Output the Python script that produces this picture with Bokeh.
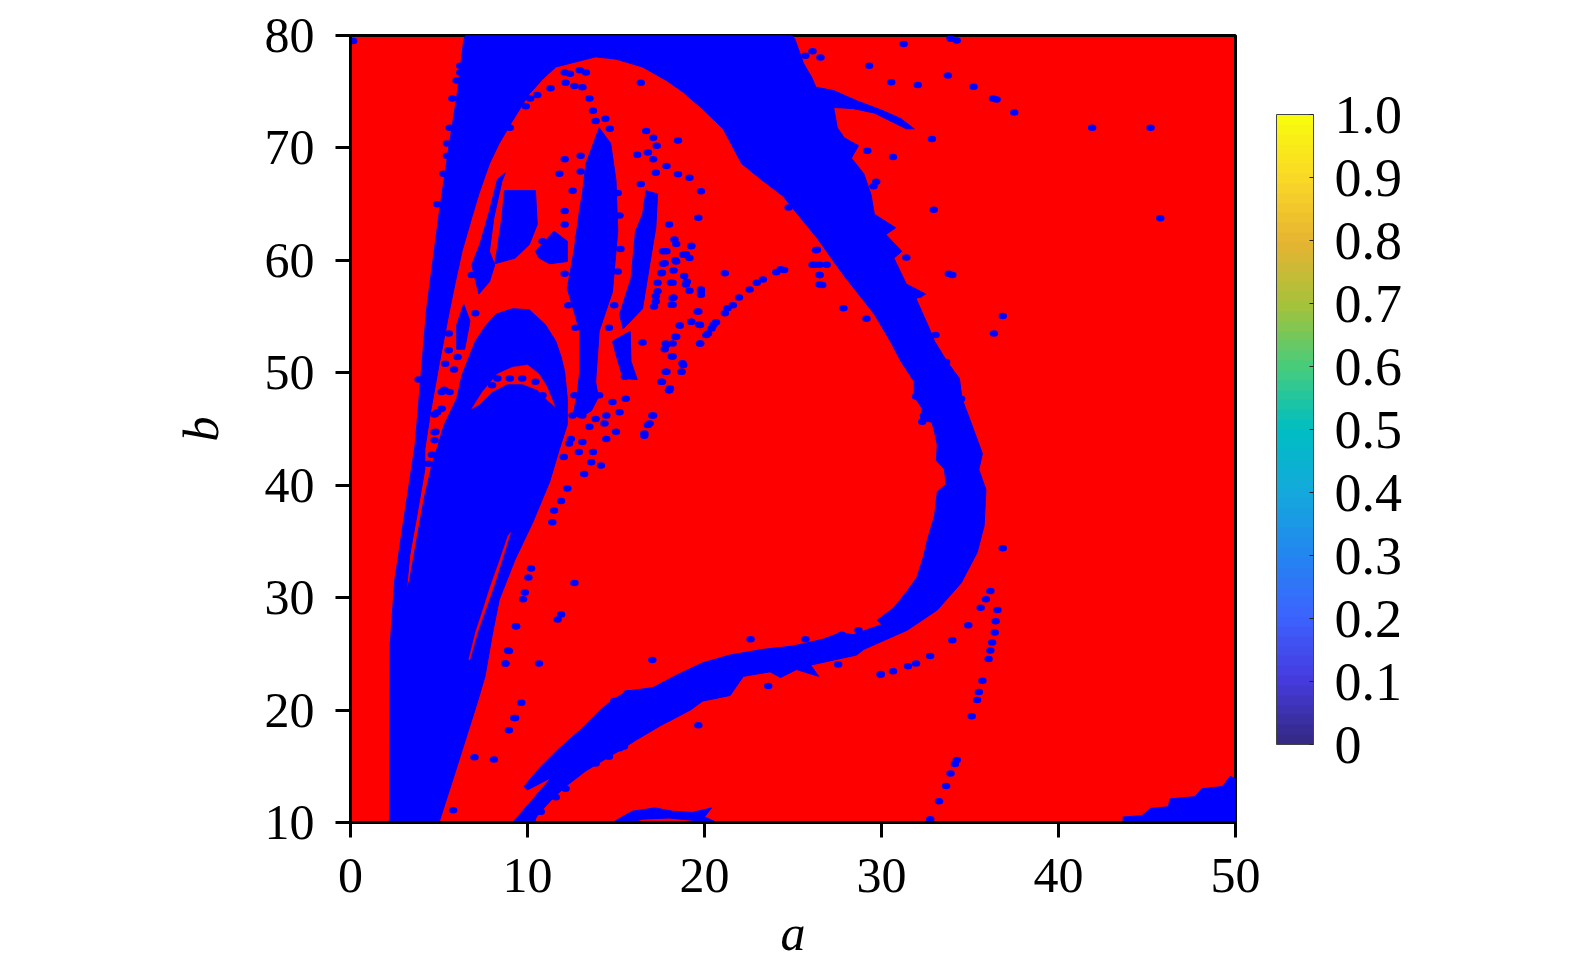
from bokeh.plotting import figure
from bokeh.embed import file_html
from bokeh.resources import INLINE
from bokeh.models import ColorBar, LinearColorMapper, FixedTicker, Title
import numpy as np

XTICKS = [0, 10, 20, 30, 40, 50]
YTICKS = [10, 20, 30, 40, 50, 60, 70, 80]
CB_TICKS = [0, .1, .2, .3, .4, .5, .6, .7, .8, .9, 1.0]
CB_LABELS = ["0", "0.1", "0.2", "0.3", "0.4", "0.5", "0.6", "0.7", "0.8", "0.9", "1.0"]

# Main connected blue band
MAIN_A = [2.2, 2.25, 2.5, 2.65, 2.9, 3.65, 4.3, 5.0, 5.55, 6.0, 6.4, 6.5, 24.9, 25.1, 25.6, 26.05, 26.3,
          27.3, 28.6, 30.1, 31.1, 31.85, 31.4, 30.5, 29.6, 28.4, 27.3, 27.5, 27.9, 28.7, 28.3, 29.0, 29.4, 29.6,
          30.8, 30.25, 31.15, 30.7, 31.4, 32.5, 31.95, 32.6, 33.0, 33.7, 34.4, 34.55, 35.05, 35.7, 35.5, 35.9,
          35.8, 35.4, 34.5, 33.15, 31.45, 29.0, 28.6, 26.0, 26.45, 25.2, 24.3, 23.7, 22.2, 21.8, 21.45, 19.9,
          19.2, 17.5, 16.1, 15.2, 14.25, 13.3, 12.15, 11.4, 10.65, 10.3, 9.15, 10.1, 11.35, 10.0, 9.8, 10.65,
          11.8, 13.1, 14.05, 14.8, 15.65, 17.1, 18.4, 19.9, 21.45, 23.3, 25.0, 26.7, 27.7, 28.4, 30.0, 29.75,
          30.7, 31.45, 32.0, 32.4, 32.6, 33.0, 33.15, 33.65, 33.55, 33.1, 33.15, 33.0, 32.85, 32.2, 32.3, 31.85,
          31.85, 31.1, 30.5, 29.6, 27.85, 26.35, 25.0, 24.45, 23.2, 22.1, 21.05, 19.9, 18.8, 17.85, 16.5, 15.0, 13.85, 13.1, 11.6, 10.85, 10.1, 9.15,
          8.4, 7.85, 7.25, 6.85, 6.3, 5.9, 5.55, 5.0, 4.5, 4.2, 4.2, 3.75, 3.35, 3.2, 3.0]
MAIN_B = [10, 26, 31.6, 33.1, 35.8, 43.6, 55.7, 64.1, 70, 74.5, 79.6, 80, 80, 79.7, 77.5, 76.3, 75.4,
          75.1, 74.2, 73.3, 72.6, 71.7, 71.7, 72.4, 73.1, 73.5, 73.6, 71.8, 70.9, 70.2, 69.1, 67.7, 65.9, 64.1,
          62.9, 62.3, 60.8, 60.2, 57.9, 57, 56.6, 54.3, 52.8, 51, 49.5, 47.7, 45.6, 42.8, 41.4, 39.6,
          36.4, 34, 31.3, 28.9, 27.1, 25.4, 24.9, 24, 23, 23.6, 22.9, 23.4, 23, 22.1, 21.3, 20.8,
          20, 18.6, 17.3, 16.4, 15.5, 14.6, 13.2, 12.1, 10.8, 10, 10, 11.7, 14, 12.9, 13.2, 14.8,
          16.6, 18.4, 19.9, 20.9, 21.7, 22, 23.1, 24.2, 24.9, 25.4, 25.7, 26.3, 26.9, 26.7, 27.6, 28,
          29.1, 30.6, 31.8, 33.8, 35.2, 37.3, 39.4, 40.1, 41.4, 42.2, 43.6, 44.7, 45.6, 45.8, 46.8, 47.9,
          49.2, 51, 52.8, 55.2, 58.7, 62, 64.6, 65.7, 67.2, 68.6, 71.7, 73.45, 74.95, 76, 77.2, 77.9, 78.1, 77.8, 77.2, 76.1, 74.8, 72.4,
          70.4, 68.6, 65.9, 63.8, 60.8, 57.9, 55.2, 50.7, 46.3, 43.2, 41.4, 37.3, 33.8, 31.3, 26]

# Large lower-left blue lobe
BLOB_A = [2.2, 2.25, 3.35, 3.85, 4.2, 4.6, 5.3, 6.0, 6.3, 6.7, 7.05, 7.6, 8.2, 9.15, 10.1, 11.0, 11.6, 11.9, 12.1, 12.25, 12.25,
          11.8, 11.25, 10.3, 9.3, 8.4, 8.0, 7.6, 7.15, 5.9, 5.0]
BLOB_B = [10, 26, 31.6, 36.1, 39.1, 41.8, 45.4, 47.7, 49.8, 51.4, 52.8, 54.1, 55.2, 55.7, 55.6, 54.3, 52.8, 51.4, 50.1, 47.7, 45.4,
          43.2, 40.3, 36.7, 33.4, 29.8, 26.6, 23, 20.6, 14.4, 10]

# Smaller blue islands
ISLAND_A = [
    [8.7, 10.45, 10.55, 10.1, 9.3, 8.15, 8.3, 8.55],
    [10.45, 11.5, 12.25, 12.25, 11.25, 10.65],
    [8.75, 8.3, 7.85, 7.3, 6.85, 7.25, 7.85, 8.15, 7.85, 8.1, 8.55],
    [6.4, 6.0, 6.0, 6.45, 6.75],
    [14.05, 14.7, 15.0, 15.1, 14.8, 14.05, 13.85, 14.0, 13.6, 12.9, 12.6, 12.8, 12.95, 12.95, 12.25, 12.65, 12.95, 13.1, 13.3],
    [16.7, 17.35, 17.25, 16.9, 16.5, 15.4, 15.2, 15.85, 16.1, 16.5],
    [14.8, 15.8, 15.85, 16.2, 15.4, 15.0],
    [14.8, 15.9, 17.2, 18.2, 19.3, 20.4, 20.0, 20.7, 19.3, 18.0, 16.5, 15.8],
    [43.65, 44.7, 45.2, 46.2, 46.3, 47.7, 48.1, 49.25, 49.7, 50.0, 50.0, 43.65],
]
ISLAND_B = [
    [66.2, 66.2, 63.2, 61.4, 60.2, 59.7, 61.1, 63.8],
    [60.8, 62.6, 61.7, 59.9, 59.7, 60.2],
    [67.8, 67.2, 64.4, 61.4, 59.6, 57, 58.1, 59.6, 60.8, 63.8, 67],
    [56.1, 54.3, 52.1, 52.1, 54.6],
    [71.8, 70.4, 67.1, 62.6, 57.2, 53.7, 49.2, 47.8, 46.6, 46, 46.4, 48, 50.1, 53.7, 57.5, 61.1, 64.6, 65.9, 68.6],
    [66.2, 65.9, 62.9, 59.6, 55.7, 53.9, 55.2, 58.4, 62.6, 64.1],
    [52.8, 53.7, 51, 49.4, 49.5, 51.6],
    [10, 11, 11.3, 11, 10.9, 11.3, 10.5, 10, 10.2, 10.4, 10.3, 10],
    [10.5, 10.6, 11.25, 11.4, 12.1, 12.3, 13, 13.2, 14.1, 13.9, 10, 10],
]

# Red cut-outs inside the blue lobe
HOLE_A = [
    [9.05, 8.6, 8.1, 7.7, 7.2, 6.75, 6.68, 7.08, 7.5, 7.9, 8.4, 8.9],
    [6.85, 7.45, 8.3, 9.15, 10.0, 10.65, 11.1, 11.55, 11.1, 10.55, 9.7, 8.85, 8.0, 7.3],
]
HOLE_B = [
    [35.8, 33.5, 31, 29.2, 27, 24.5, 24.5, 27, 29, 31, 33.2, 35.5],
    [46.8, 48.3, 49.9, 50.5, 50.7, 49.9, 48.75, 47, 47.6, 48.5, 49, 49, 48.3, 47.2],
]

# Isolated blue specks
DOT_A = [0.15, 6.2, 6.2, 6.0, 5.75, 5.6, 5.45, 5.45, 5.25, 4.9, 3.85, 7.05, 5.55, 5.55, 6.05, 5.35, 5.85, 5.3, 5.6, 5.15, 4.75, 4.75, 4.75, 6.85,
         4.6, 4.4, 4.8, 4.9, 5.15,
         12.1, 12.4, 12.95, 13.3, 12.15, 12.65, 13.1, 11.3, 10.55, 10.15, 9.9, 9.0, 13.5, 13.7, 13.85, 14.65, 14.4, 16.4,
         12.1, 13.0, 13.0, 11.8, 12.55, 12.1, 12.1, 10.85, 12.1,
         8.3, 9.0, 9.7, 10.45, 8.0, 10.85,
         16.7, 17.1, 16.8, 17.3, 16.2, 17.1, 17.85, 17.25, 18.5, 18.5, 19.15, 19.8, 16.4, 19.65, 18.0, 18.3, 17.85, 19.25, 18.8, 19.15,
         17.75, 18.4, 17.55, 18.1, 19.0, 17.35, 19.8, 18.2, 18.2, 17.25, 19.65, 18.6, 19.25, 19.75, 20.5, 20.2, 18.4, 17.85, 16.5, 19.75,
         18.2, 18.8, 17.85, 18.7, 17.55, 18.0, 15.5,
         14.05, 14.8, 15.55, 15.2, 14.45, 14.35, 15.0, 14.45, 13.85, 13.5, 13.1, 12.9, 13.7, 13.6, 14.15, 13.2, 12.45, 12.35, 12.05, 12.25, 11.9, 11.5, 11.4,
         16.9, 16.6, 17.1, 18.05, 10.2, 10.05, 12.65, 9.85, 9.75, 11.9, 11.7, 9.35, 8.9, 8.75, 10.65, 17.05, 12.65, 12.9, 13.1, 12.55,
         26.35, 26.25, 26.5, 26.5, 21.15, 24.3, 24.05, 23.3, 22.95, 22.55, 21.95, 21.6, 21.3, 21.15, 20.65, 20.4, 20.1, 19.6, 19.7, 19.25, 18.6, 19.75,
         19.8, 19.8, 19.15, 18.85, 18.95, 18.2, 18.25, 18.15, 17.15, 17.35, 17.25, 17.65, 18.25, 17.6, 17.65, 18.95, 18.35, 19.25, 18.4,
         18.35, 17.8, 18.2, 17.75, 18.15, 18.75, 18.7, 17.8, 17.6, 18.0, 17.05, 16.8, 16.6,
         25.7, 26.1, 26.55, 29.3, 31.25, 33.9, 34.25, 30.55, 32.05, 33.75, 35.2, 36.3, 36.5, 37.5, 32.85, 29.2, 30.65, 29.7, 29.55, 32.95, 31.4, 34.0, 32.1, 36.85, 36.35, 33.05,
         26.3, 26.5, 26.1, 26.9, 26.5, 26.65, 27.85, 29.15, 24.75, 24.5, 41.9, 45.2, 45.75, 33.8,
         33.65, 34.2, 34.5, 31.95, 32.3, 32.4, 36.85, 36.15, 35.9, 35.6, 36.55, 36.45, 36.4, 36.25, 36.15, 36.05, 35.7, 35.5, 35.4, 35.1, 34.25, 34.15, 33.9, 33.65, 33.25, 32.75,
         34.9, 34.0, 32.75, 31.95, 31.5, 30.65, 29.95,
         9.35, 8.95, 8.75, 9.65, 9.3, 8.95, 19.65, 23.6, 27.55, 29.95, 22.6, 15.65, 14.9, 15.2, 15.45, 14.6, 13.85, 12.15, 11.6, 10.75, 10.25, 25.7, 27.75, 28.7,
         5.8, 7.0, 8.1, 9.25,
         15.1, 15.2, 15.25, 15.1, 14.9, 14.6, 12.9, 12.7, 12.3, 12.7]
DOT_B = [79.5, 77.3, 76.7, 76, 74.4, 71.8, 70.4, 69.3, 67.7, 65, 49.4, 55.3, 53.5, 52, 51.4, 50.8, 50.3, 48.5, 48.3, 46.8, 46.3, 44.7, 44, 58.7,
         42.7, 41.9, 44.75, 46.5, 48.3,
         76.7, 76.6, 76.9, 76.7, 75.8, 75.5, 75.4, 75.3, 74.7, 74.4, 73.7, 71.8, 74.4, 73.3, 72.4, 71.7, 72.6, 75.8,
         69, 69.3, 67.9, 67.7, 66.2, 64.4, 63.2, 61.7, 58.8,
         49.5, 49.5, 49.5, 49.2, 48.9, 48,
         71.5, 70.9, 69.6, 70.2, 69.4, 69, 68.4, 67.8, 70.65, 67.65, 67.35, 66.15, 66.8, 63.8, 63.2, 61.85, 60.8, 61.25, 60.5, 60.2,
         59.75, 59.9, 58.85, 58, 58.1, 57.25, 57.25, 56.65, 56.05, 56.35, 55.45, 54.2, 54.55, 54.25, 54.25, 53.5, 53.2, 52.5, 52.7, 52.6,
         51.45, 50.7, 50.1, 50.1, 49.2, 48.45, 49.65,
         48, 47.4, 47.7, 46.5, 46.2, 45.5, 44.75, 44.1, 45.9, 45.2, 43.85, 42.95, 42.95, 42.05, 41.75, 41, 44.1, 43.7, 42.5, 39.7, 38.6, 37.75, 36.7,
         45.5, 44.4, 46.2, 48.6, 32.6, 31.8, 31.3, 30.45, 29.85, 28.5, 28.05, 27.45, 25.3, 24.15, 24.15, 24.45, 48, 47.1, 46.2, 46.2,
         60.95, 59.6, 58.7, 57.85, 58.85, 59.2, 58.95, 58.3, 58, 57.4, 56.7, 56, 55.75, 55.3, 54.5, 53.95, 53.35, 55.45, 54.3, 54.55, 54.2, 52.6,
         57.4, 56.95, 57.3, 58.6, 57.85, 58, 56.7, 56.05, 55.9, 58, 56.8, 59.7, 59.1, 58.9, 60.8, 60.55, 60, 61.3, 61.45,
         53.2, 52.6, 52.6, 52.1, 51.45, 50.85, 50.1, 50.1, 49.2, 48.45, 46.2, 45.35, 44.6,
         78.2, 78.6, 78.05, 77.3, 79.25, 79.7, 79.55, 75.85, 75.6, 76.45, 75.45, 74.4, 74.3, 73.15, 70.8, 69.75, 69.2, 67, 66.6, 64.5, 60.25, 58.7, 56.95, 55.05, 53.5, 53.35,
         60.9, 59.6, 59.6, 59.6, 58.7, 57.8, 55.75, 54.8, 64.7, 59.15, 71.8, 71.8, 63.75, 58.8,
         50.95, 49.35, 47.7, 47.9, 45.65, 46.2, 34.4, 30.6, 29.85, 29.1, 28.9, 27.9, 26.9, 26, 25.3, 24.55, 22.6, 21.6, 20.9, 19.45, 15.55, 15.2, 14.35, 13.25, 11.9, 10.3,
         27.55, 26.2, 24.8, 24.15, 23.9, 23.45, 23.2,
         27.45, 25.25, 24.15, 20.65, 19.3, 18.2, 18.65, 22.15, 24.05, 23.15, 26.3, 21.5, 20.8, 16.6, 16.75, 15.85, 15.25, 13, 12.25, 10.95, 10.35, 26.3, 26.7, 27.1,
         11.1, 15.8, 15.6, 19.3,
         66, 64, 61, 59, 56, 54, 62, 59, 56, 54]

# Colour-bar anchors, bottom to top
CB_R = [53, 70, 60, 35, 20, 0, 70, 165, 230, 250, 249]
CB_G = [42, 60, 100, 135, 170, 190, 205, 195, 180, 215, 251]
CB_B = [135, 225, 255, 240, 220, 195, 125, 60, 50, 40, 14]

FONT = "Liberation Serif"
SIZE = "50px"

p = figure(width=1559, height=958, frame_height=787, x_range=(0, 50), y_range=(10, 80),
           output_backend="svg", toolbar_location=None,
           min_border_left=350, min_border_right=324, min_border_top=35, min_border_bottom=136,
           background_fill_color="#ff0000", border_fill_color="white")
p.grid.visible = False
p.outline_line_color = "black"
p.outline_line_width = 3

BLUE = "#0000ff"
p.patch(MAIN_A, MAIN_B, fill_color=BLUE, line_color=BLUE, line_width=1)
p.patch(BLOB_A, BLOB_B, fill_color=BLUE, line_color=BLUE, line_width=1)
p.patches(ISLAND_A, ISLAND_B, fill_color=BLUE, line_color=BLUE, line_width=1)
p.patches(HOLE_A, HOLE_B, fill_color="#ff0000", line_color="#ff0000", line_width=0.5)
p.ellipse(DOT_A, DOT_B, width=8.5, height=6.5, width_units="screen", height_units="screen",
          fill_color=BLUE, line_color=None)

for ax, ticks in ((p.xaxis[0], XTICKS), (p.yaxis[0], YTICKS)):
    ax.ticker = FixedTicker(ticks=ticks)
    ax.axis_line_color = "black"
    ax.axis_line_width = 3
    ax.major_tick_line_color = "black"
    ax.major_tick_line_width = 3
    ax.major_tick_out = 15
    ax.major_tick_in = 0
    ax.minor_tick_line_color = None
    ax.major_label_text_font = FONT
    ax.major_label_text_font_size = SIZE
    ax.major_label_text_color = "black"
p.xaxis[0].major_label_standoff = 21
p.yaxis[0].major_label_standoff = 21
p.yaxis[0].major_label_orientation = "horizontal"

p.add_layout(Title(text="a", align="center", standoff=16, text_font=FONT, text_font_style="italic",
                   text_font_size=SIZE, text_color="black"), "below")
p.add_layout(Title(text="b", align="center", offset=13, standoff=66, text_font=FONT, text_font_style="italic",
                   text_font_size=SIZE, text_color="black"), "left")

pos = np.linspace(0, 1, 11)
steps = np.linspace(0, 1, 64)
rr = np.interp(steps, pos, CB_R).astype(int)
gg = np.interp(steps, pos, CB_G).astype(int)
bb = np.interp(steps, pos, CB_B).astype(int)
palette = ["#%02x%02x%02x" % (r, g, b) for r, g, b in zip(rr, gg, bb)]
mapper = LinearColorMapper(palette=palette, low=0, high=1)
cb = ColorBar(color_mapper=mapper, ticker=FixedTicker(ticks=CB_TICKS),
              major_label_overrides=dict(zip(CB_TICKS, CB_LABELS)),
              width=37, height=630, location=(926, 78), padding=0, margin=0,
              background_fill_color=None, border_line_color=None,
              bar_line_color="#444444", bar_line_width=1,
              major_tick_line_color="#222222", major_tick_in=4, major_tick_out=0, minor_tick_line_color=None,
              major_label_text_font=FONT, major_label_text_font_size="54px", major_label_text_color="black",
              label_standoff=21)
p.add_layout(cb)

open("out.html", "w").write(file_html(p, INLINE))
